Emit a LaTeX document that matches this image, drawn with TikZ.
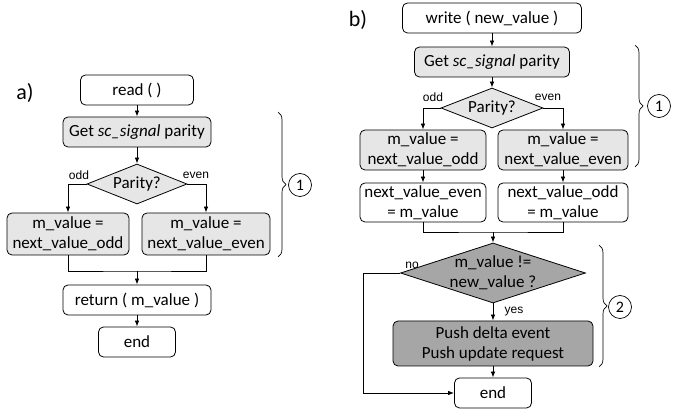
\documentclass[tikz,border=0pt]{standalone}
\usepackage{fontspec}
\setmainfont{Carlito}
\newfontfamily\arialfont{Liberation Sans}
\usetikzlibrary{shapes.geometric,arrows.meta,decorations.pathreplacing}

\definecolor{svetlyj}{RGB}{230,230,230}
\definecolor{temnyj}{RGB}{166,166,166}

\tikzset{
 blok/.style={draw, rounded corners=5pt, inner sep=0pt, align=center, line width=0.8pt,
   font=\fontsize{17}{20}\selectfont},
 romb/.style={draw, diamond, inner sep=0pt, line width=0.8pt},
 tekst/.style={align=center, font=\fontsize{17}{20}\selectfont},
 metka/.style={font=\arialfont\fontsize{12}{14}\selectfont},
 strelka/.style={-{Latex[length=6pt,width=4.5pt]}, line width=0.8pt},
 liniya/.style={line width=0.8pt},
 skobka/.style={decorate, decoration={brace, amplitude=8pt}, line width=0.7pt},
 krug/.style={draw, circle, minimum size=23pt, inner sep=0pt, line width=0.7pt,
   font=\fontsize{16}{16}\selectfont}
}

\begin{document}
\begin{tikzpicture}[x=1pt,y=-1pt]
\useasboundingbox (0,0) rectangle (689,414);

% skhema a)
\node [font=\fontsize{22}{22}\selectfont] (ta) at (25,93) {a)};
\node [blok, minimum width=113, minimum height=30] (read) at (137,90) {read ( )};
\node [blok, fill=svetlyj, minimum width=148, minimum height=30] (get1) at (137,132) {Get \textit{sc\_signal} parity};
\node [romb, fill=svetlyj, minimum width=100, minimum height=40,
  label={[tekst]center:Parity?}] (par1) at (137,184) {};
\node [blok, fill=svetlyj, minimum width=122, minimum height=42] (m1) at (68,234) {m\_value =\\next\_value\_odd};
\node [blok, fill=svetlyj, minimum width=128, minimum height=42] (m2) at (206,234) {m\_value =\\next\_value\_even};
\node [blok, minimum width=148, minimum height=30] (ret) at (137,300) {return ( m\_value )};
\node [blok, minimum width=77, minimum height=30] (end1) at (137,342) {end};

\node [metka] (odd1) at (79,175) {odd};
\node [metka] (even1) at (196,175) {even};

\draw [strelka] (read) -- (get1);
\draw [strelka] (get1) -- (par1);
\draw [strelka] (par1.west) -| (m1.north);
\draw [strelka] (par1.east) -| (m2.north);
\coordinate (j1) at (137,271);
\draw [liniya] (m1.south) |- (j1) -| (m2.south);
\draw [strelka] (j1) -- (ret);
\draw [strelka] (ret) -- (end1);

% skobka 1 a)
\draw [skobka] (278,112) -- (278,257);
\node [krug] (k1) at (300,185) {1};

% skhema b)
\node [font=\fontsize{22}{22}\selectfont] (tb) at (358,20) {b)};
\node [blok, minimum width=179, minimum height=30] (write) at (492,18) {write ( new\_value )};
\node [blok, fill=svetlyj, minimum width=155, minimum height=30] (get2) at (492,62) {Get \textit{sc\_signal} parity};
\node [romb, fill=svetlyj, minimum width=102, minimum height=40,
  label={[tekst]center:Parity?}] (par2) at (492,108) {};
\node [blok, fill=svetlyj, minimum width=126, minimum height=40] (m3) at (423,150) {m\_value =\\next\_value\_odd};
\node [blok, fill=svetlyj, minimum width=130, minimum height=40] (m4) at (563,150) {m\_value =\\next\_value\_even};
\node [blok, minimum width=126, minimum height=39] (n1) at (423,202.5) {next\_value\_even\\= m\_value};
\node [blok, minimum width=130, minimum height=39] (n2) at (563,202.5) {next\_value\_odd\\= m\_value};
\node [romb, fill=temnyj, minimum width=185, minimum height=60,
  label={[tekst]center:m\_value !=\\new\_value ?}] (d2) at (493,273) {};
\node [blok, fill=temnyj, minimum width=200, minimum height=45] (push) at (493,343.5) {Push delta event\\Push update request};
\node [blok, minimum width=77, minimum height=30] (end2) at (493,393) {end};

\node [metka] (odd2) at (433,97) {odd};
\node [metka] (even2) at (548,97) {even};
\node [metka] (no) at (412,265) {no};
\node [metka] (yes) at (514,312) {yes};

\draw [strelka] (write) -- (get2);
\draw [strelka] (get2) -- (par2);
\draw [strelka] (par2.west) -| (m3.north);
\draw [strelka] (par2.east) -| (m4.north);
\draw [strelka] (m3) -- (n1);
\draw [strelka] (m4) -- (n2);
\coordinate (j2) at (493,232);
\draw [liniya] (n1.south) |- (j2) -| (n2.south);
\draw [strelka] (j2) -- (d2);
\draw [strelka] (d2) -- (push);
\draw [strelka] (push) -- (end2);
\coordinate (c2) at (363,273);
\draw [strelka] (d2.west) -- (c2) |- (end2.west);

% skobki b)
\draw [skobka] (635,45) -- (635,167);
\node [krug] (k2) at (659,106) {1};
\draw [skobka] (599,245) -- (599,367);
\node [krug] (k3) at (620,307) {2};
\end{tikzpicture}
\end{document}
